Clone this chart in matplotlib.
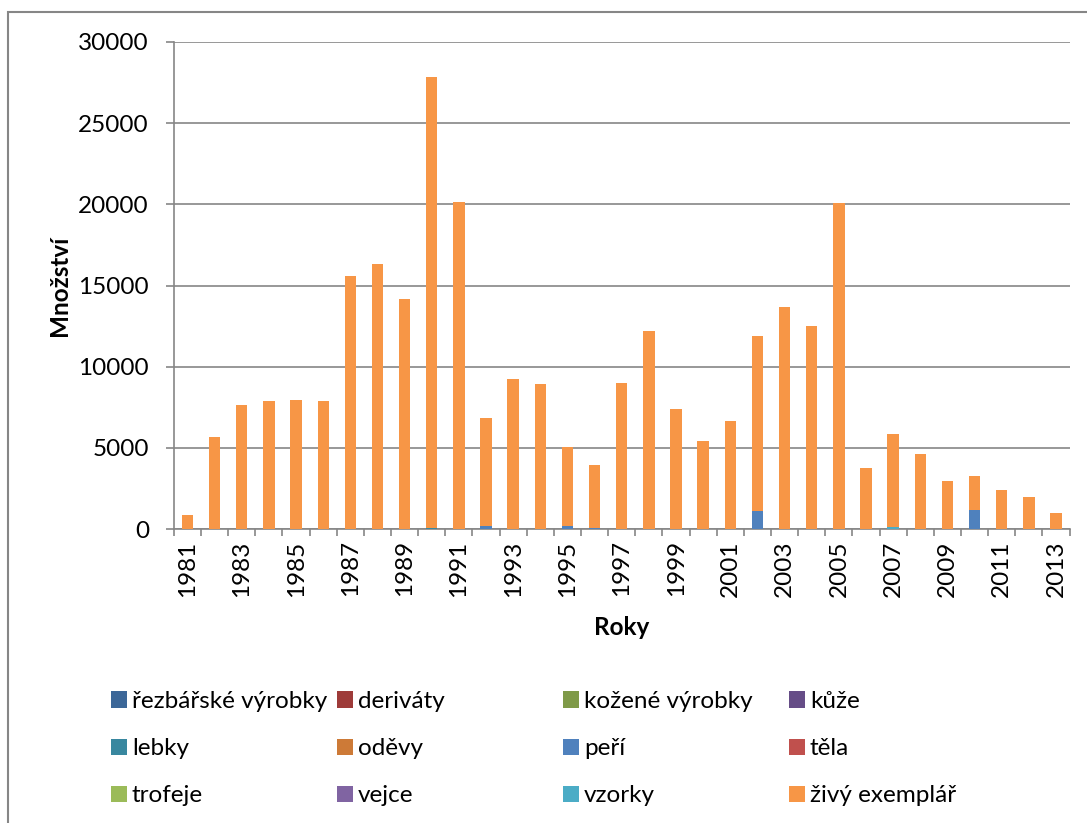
import numpy as np
import matplotlib.pyplot as plt
from matplotlib.patches import Rectangle

plt.rcParams['font.family'] = ['Lato', 'DejaVu Sans']

roky = list(range(1981, 2014))

# Množství podle druhu zboží (ks), 1981-2013
rezbarske = [0] * 33
derivaty = [0, 0, 0, 0, 0, 30, 0, 0, 0, 0, 0, 0, 0, 0, 0, 0, 0, 0, 0, 0, 0, 0, 0, 0, 0, 0, 0, 0, 0, 0, 0, 0, 0]
kozene = [0] * 33
kuze = [0] * 33
lebky = [0, 0, 0, 0, 0, 0, 0, 0, 0, 60, 30, 0, 0, 0, 0, 0, 0, 0, 0, 0, 0, 0, 0, 0, 0, 0, 0, 0, 0, 0, 0, 0, 0]
odevy = [0] * 33
peri = [0, 0, 0, 0, 0, 0, 0, 0, 0, 0, 0, 200, 0, 0, 200, 50, 0, 0, 0, 0, 0, 1120, 0, 0, 0, 0, 0, 0, 0, 1180, 0, 0, 0]
tela = [0] * 33
trofeje = [0] * 33
vejce = [0] * 33
vzorky = [0, 0, 0, 0, 0, 0, 0, 0, 0, 0, 0, 0, 0, 0, 0, 0, 0, 0, 0, 0, 0, 0, 0, 0, 0, 0, 120, 0, 0, 0, 0, 0, 0]
zivy = [850, 5650, 7640, 7880, 7950, 7860, 15580, 16320, 14170, 27790, 20120,
        6640, 9240, 8930, 4850, 3890, 9000, 12200, 7390, 5420, 6650, 10770,
        13670, 12500, 20080, 3760, 5730, 4620, 2950, 2080, 2400, 1970, 980]

nazvy = ['řezbářské výrobky', 'deriváty', 'kožené výrobky', 'kůže',
         'lebky', 'oděvy', 'peří', 'těla',
         'trofeje', 'vejce', 'vzorky', 'živý exemplář']
serie = [rezbarske, derivaty, kozene, kuze, lebky, odevy, peri, tela,
         trofeje, vejce, vzorky, zivy]
barvy = ['#3C6798', '#9E3B39', '#7F9A48', '#664D87', '#38879F', '#CD7A37',
         '#4F81BD', '#C0504D', '#9BBB59', '#8064A2', '#4BACC6', '#F79646']

seda = '#868686'
pismo = 17.5

fig = plt.figure(figsize=(10.87, 8.23), dpi=100)
ax = fig.add_axes([0.160, 0.357, 0.824, 0.592])

x = np.arange(len(roky))
spodek = np.zeros(len(roky))
handles = []
for hodnoty, nazev, barva in zip(serie, nazvy, barvy):
    h = ax.bar(x, hodnoty, width=0.42, bottom=spodek, color=barva, label=nazev, zorder=3)
    handles.append(h)
    spodek += np.array(hodnoty)

ax.set_xlim(-0.5, len(roky) - 0.5)
ax.set_ylim(0, 30000)
ax.set_yticks(range(0, 30001, 5000))
ax.yaxis.grid(True, color=seda, linewidth=1.2, zorder=0)

# dílky mezi kategoriemi, popisky každý druhý rok
ax.set_xticks(np.arange(-0.5, len(roky), 1.0))
ax.set_xticklabels([])
ax.set_xticks(x[::2], minor=True)
ax.set_xticklabels([str(r) for r in roky[::2]], minor=True, rotation=90, fontsize=pismo)
ax.tick_params(axis='x', which='major', length=5, width=1.2, color=seda)
ax.tick_params(axis='x', which='minor', length=0, pad=8)
ax.tick_params(axis='y', length=6, width=1.2, color=seda, labelsize=pismo, pad=12)

for s in ['top', 'right']:
    ax.spines[s].set_visible(False)
for s in ['left', 'bottom']:
    ax.spines[s].set_color(seda)
    ax.spines[s].set_linewidth(1.2)

ax.set_ylabel('Množství', fontsize=pismo, fontweight='bold', labelpad=5)
ax.set_xlabel('Roky', fontsize=pismo, fontweight='bold', labelpad=14)

# legenda: 4 sloupce po 3 položkách, řazeno po řádcích
sloupce_x = [111, 337, 563, 789]
for c in range(4):
    polozky = [handles[r * 4 + c] for r in range(3)]
    fig.legend(polozky, [h.get_label() for h in polozky], loc='upper left',
               bbox_to_anchor=(sloupce_x[c] / 1087, 1 - 691 / 823),
               frameon=False, fontsize=pismo, handlelength=0.66, handleheight=0.66,
               handletextpad=0.2, labelspacing=1.08, borderpad=0, borderaxespad=0)

# rámeček grafu
fig.patches.append(Rectangle((8 / 1087, -0.1), 1.2, 1.1 - 12 / 823, transform=fig.transFigure,
                             fill=False, edgecolor=seda, linewidth=1.5))

fig.savefig('out.png', dpi=100)
